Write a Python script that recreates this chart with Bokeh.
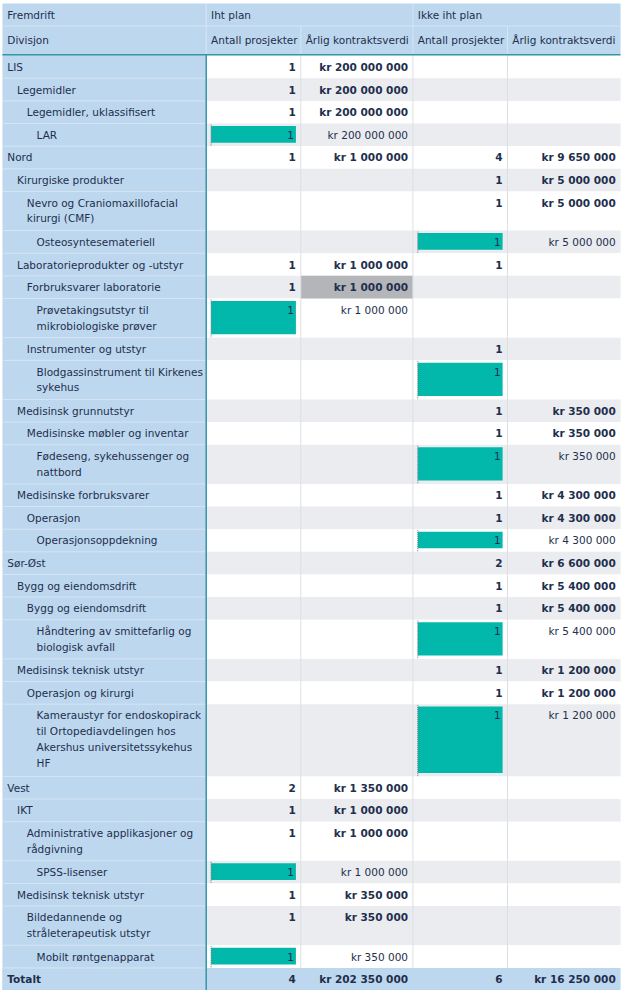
from bokeh.plotting import figure
from bokeh.models import Range1d
from bokeh.core.properties import value
from bokeh.embed import file_html
from bokeh.resources import INLINE

# ---------------- data ----------------
corner_labels = ["Fremdrift", "Divisjon"]
group_labels = ["Iht plan", "Ikke iht plan"]
measure_labels = ["Antall prosjekter", "Årlig kontraktsverdi"]

labels = [
    "LIS", "Legemidler", "Legemidler, uklassifisert", "LAR",
    "Nord", "Kirurgiske produkter", "Nevro og Craniomaxillofacial\nkirurgi (CMF)", "Osteosyntesemateriell",
    "Laboratorieprodukter og -utstyr", "Forbruksvarer laboratorie",
    "Prøvetakingsutstyr til\nmikrobiologiske prøver", "Instrumenter og utstyr",
    "Blodgassinstrument til Kirkenes\nsykehus", "Medisinsk grunnutstyr",
    "Medisinske møbler og inventar", "Fødeseng, sykehussenger og\nnattbord",
    "Medisinske forbruksvarer", "Operasjon", "Operasjonsoppdekning",
    "Sør-Øst", "Bygg og eiendomsdrift", "Bygg og eiendomsdrift",
    "Håndtering av smittefarlig og\nbiologisk avfall", "Medisinsk teknisk utstyr",
    "Operasjon og kirurgi",
    "Kameraustyr for endoskopirack\ntil Ortopediavdelingen hos\nAkershus universitetssykehus\nHF",
    "Vest", "IKT", "Administrative applikasjoner og\nrådgivning", "SPSS-lisenser",
    "Medisinsk teknisk utstyr", "Bildedannende og\nstråleterapeutisk utstyr", "Mobilt røntgenapparat",
]
levels = [0, 1, 2, 3, 0, 1, 2, 3, 1, 2, 3, 2, 3, 1, 2, 3, 1, 2, 3,
          0, 1, 2, 3, 1, 2, 3, 0, 1, 2, 3, 1, 2, 3]
iht_antall = [1, 1, 1, 1, 1, None, None, None, 1, 1, 1, None, None, None, None, None,
              None, None, None, None, None, None, None, None, None, None,
              2, 1, 1, 1, 1, 1, 1]
iht_verdi = ["kr 200 000 000", "kr 200 000 000", "kr 200 000 000", "kr 200 000 000",
             "kr 1 000 000", None, None, None, "kr 1 000 000", "kr 1 000 000", "kr 1 000 000",
             None, None, None, None, None, None, None, None, None, None, None, None, None,
             None, None, "kr 1 350 000", "kr 1 000 000", "kr 1 000 000", "kr 1 000 000",
             "kr 350 000", "kr 350 000", "kr 350 000"]
ikke_antall = [None, None, None, None, 4, 1, 1, 1, 1, None, None, 1, 1, 1, 1, 1,
               1, 1, 1, 2, 1, 1, 1, 1, 1, 1,
               None, None, None, None, None, None, None]
ikke_verdi = [None, None, None, None, "kr 9 650 000", "kr 5 000 000", "kr 5 000 000", "kr 5 000 000",
              None, None, None, None, None, "kr 350 000", "kr 350 000", "kr 350 000",
              "kr 4 300 000", "kr 4 300 000", "kr 4 300 000", "kr 6 600 000", "kr 5 400 000",
              "kr 5 400 000", "kr 5 400 000", "kr 1 200 000", "kr 1 200 000", "kr 1 200 000",
              None, None, None, None, None, None, None]
total_label = "Totalt"
total_iht_antall = 4
total_iht_verdi = "kr 202 350 000"
total_ikke_antall = 6
total_ikke_verdi = "kr 16 250 000"
highlight_row = 9   # Forbruksvarer laboratorie
highlight_col = 1   # Årlig kontraktsverdi (Iht plan)

# ---------------- styling / layout ----------------
FONT = value("DejaVu Sans")
FS = "10.5px"
TXT = "#1E2F4D"
HDR_BG = "#BDD7EE"
SEP = "#D6E5F3"
ALT = "#EAECEF"
GRID = "#DCDFE4"
TEAL = "#3596A4"
BAR = "#01B8AA"
HL = "#B3B5B8"

XL, XR = 2, 636
col_edges = [211, 308, 423, 520, 636]
H1_TOP, H1_BOT, H2_BOT = 3, 26, 55
ROW_H, LINE_EXTRA, LINE_H = 23, 16.8, 16

p = figure(width=623, height=992, x_range=Range1d(0, 639), y_range=Range1d(1008, 0),
           output_backend="svg", toolbar_location=None, min_border=0,
           x_axis_type=None, y_axis_type=None)
p.grid.visible = False
p.outline_line_color = None
p.background_fill_color = "white"
p.border_fill_color = "white"

# row geometry
tops, bots = [], []
y = H2_BOT + 1
for lab in labels:
    n = lab.count("\n") + 1
    h = ROW_H + LINE_EXTRA * (n - 1)
    tops.append(y)
    bots.append(y + h)
    y += h
tot_top, tot_bot = y, y + 22.5

# backgrounds
p.quad(left=[XL], right=[col_edges[0]], top=[H1_TOP], bottom=[tot_bot], fill_color=HDR_BG, line_color=None)
p.quad(left=[col_edges[0]], right=[XR], top=[H1_TOP], bottom=[H2_BOT], fill_color=HDR_BG, line_color=None)
p.quad(left=[col_edges[0]] * len(labels), right=[XR] * len(labels), top=tops, bottom=bots,
       fill_color=["white" if i % 2 == 0 else ALT for i in range(len(labels))], line_color=None)
p.quad(left=[XL], right=[XR], top=[tot_top], bottom=[tot_bot], fill_color=HDR_BG, line_color=None)
p.quad(left=[col_edges[highlight_col]], right=[col_edges[highlight_col + 1]], top=[tops[highlight_row]],
       bottom=[bots[highlight_row]], fill_color=HL, line_color=None)

# separators in row header
p.segment(x0=[XL] * (len(labels)), x1=[col_edges[0]] * len(labels), y0=bots, y1=bots,
          line_color=SEP, line_width=1)
p.segment(x0=[XL], x1=[XR], y0=[H1_BOT], y1=[H1_BOT], line_color=SEP, line_width=1)
p.segment(x0=[col_edges[0], col_edges[2]], x1=[col_edges[0], col_edges[2]],
          y0=[H1_TOP, H1_TOP], y1=[H2_BOT, H2_BOT], line_color=SEP, line_width=1)
p.segment(x0=[col_edges[1], col_edges[3]], x1=[col_edges[1], col_edges[3]],
          y0=[H1_BOT, H1_BOT], y1=[H2_BOT, H2_BOT], line_color=SEP, line_width=1)
# data grid
p.segment(x0=col_edges[1:4], x1=col_edges[1:4], y0=[H2_BOT] * 3, y1=[tot_top] * 3,
          line_color=GRID, line_width=1)
# teal lines
p.segment(x0=[XL], x1=[XR], y0=[H2_BOT], y1=[H2_BOT], line_color=TEAL, line_width=1.5)
p.segment(x0=[col_edges[0]], x1=[col_edges[0]], y0=[H2_BOT], y1=[tot_bot], line_color=TEAL, line_width=1.5)


def put(xs, ys, texts, align="left", bold=False):
    if not texts:
        return
    p.text(x=xs, y=ys, text=texts, text_font=FONT, text_font_size=FS,
           text_font_style="bold" if bold else "normal", text_color=TXT,
           text_align=align, text_baseline="middle")


# header texts
put([7, col_edges[0] + 5, col_edges[2] + 5], [(H1_TOP + H1_BOT) / 2 + 0.5] * 3,
    [corner_labels[0], group_labels[0], group_labels[1]])
hx = [7] + [col_edges[i] + 5 for i in range(4)]
put(hx, [(H1_BOT + H2_BOT) / 2] * 5,
    [corner_labels[1], measure_labels[0], measure_labels[1], measure_labels[0], measure_labels[1]])

# row header labels
lx, ly, lt = [], [], []
for i, lab in enumerate(labels):
    for k, line in enumerate(lab.split("\n")):
        lx.append(7 + 10 * levels[i])
        ly.append(tops[i] + 11.5 + LINE_H * k)
        lt.append(line)
put(lx, ly, lt)
put([7], [(tot_top + tot_bot) / 2], [total_label], bold=True)

# values
maxleaf = max([v for i, v in enumerate(iht_antall + ikke_antall)
               if v is not None and levels[i % len(labels)] == 3])
cols = [iht_antall, iht_verdi, ikke_antall, ikke_verdi]
bx0, bx1, bt, bb, dx, dy0, dy1 = [], [], [], [], [], [], []
bold_x, bold_y, bold_t, norm_x, norm_y, norm_t = [], [], [], [], [], []
for c, arr in enumerate(cols):
    right = col_edges[c + 1] - 5
    for i, v in enumerate(arr):
        if v is None:
            continue
        ty = tops[i] + 11.5
        if levels[i] == 3:
            if c in (0, 2):
                left = col_edges[c] + 5
                w = (col_edges[c + 1] - col_edges[c] - 10) * v / maxleaf
                bx0.append(left); bx1.append(left + w)
                bt.append(tops[i] + 2.5); bb.append(bots[i] - 3.5)
                dx.append(left); dy0.append(tops[i] + 1); dy1.append(bots[i])
                norm_x.append(left + w - 2)
            else:
                norm_x.append(right)
            norm_y.append(ty); norm_t.append(str(v))
        else:
            bold_x.append(right); bold_y.append(ty); bold_t.append(str(v))

p.quad(left=bx0, right=bx1, top=bt, bottom=bb, fill_color=BAR, line_color=None)
p.segment(x0=dx, x1=dx, y0=dy0, y1=dy1, line_color="#6E7A86", line_width=1, line_dash="1 1")
put(norm_x, norm_y, norm_t, align="right")
put(bold_x, bold_y, bold_t, align="right", bold=True)

tot_vals = [total_iht_antall, total_iht_verdi, total_ikke_antall, total_ikke_verdi]
put([col_edges[c + 1] - 5 for c in range(4)], [(tot_top + tot_bot) / 2] * 4,
    [str(v) for v in tot_vals], align="right", bold=True)

open("out.html", "w").write(file_html(p, INLINE))
